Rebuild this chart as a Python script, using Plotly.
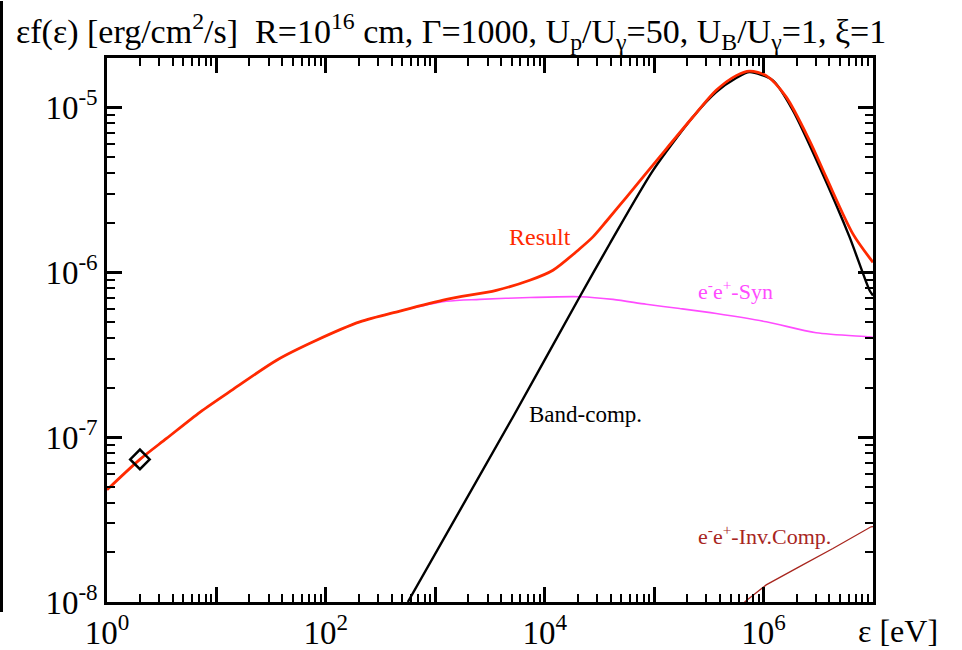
import plotly.graph_objects as go

# ---- data ----
res_e = [1.0, 2.0, 3.5, 7.1, 14.2, 35.5, 82, 204, 474, 1265, 3610, 7300, 11900, 20900, 27600,
         36600, 55700, 112000, 226000, 369000, 562000, 745000, 1057000, 1607000, 2630000,
         3730000, 6550000, 1.0e7]
res_f = [4.79e-8, 7.33e-8, 9.82e-8, 1.42e-7, 1.95e-7, 2.93e-7, 3.87e-7, 5.0e-7, 5.82e-7, 6.85e-7,
         7.78e-7, 8.95e-7, 1.03e-6, 1.39e-6, 1.64e-6, 2.04e-6, 2.85e-6, 5.0e-6, 8.75e-6, 1.27e-5,
         1.56e-5, 1.66e-5, 1.56e-5, 1.16e-5, 6.3e-6, 3.78e-6, 1.71e-6, 1.15e-6]

syn_e = [1.0, 2.0, 3.5, 7.1, 14.2, 35.5, 82, 204, 474, 1265, 2550, 7300, 20900, 42100, 84700,
         171000, 369000, 1057000, 3020000, 9290000, 1.0e7]
syn_f = [4.79e-8, 7.33e-8, 9.82e-8, 1.42e-7, 1.95e-7, 2.93e-7, 3.87e-7, 5.0e-7, 5.82e-7, 6.67e-7,
         6.85e-7, 7.03e-7, 7.11e-7, 6.85e-7, 6.40e-7, 6.03e-7, 5.62e-7, 5.01e-7, 4.3e-7, 4.06e-7,
         4.03e-7]

band_e = [561, 5140, 20900, 39300, 97700, 226000, 369000, 562000, 745000, 1216000, 1853000,
          3240000, 6100000, 9290000, 1.0e7]
band_f = [1.0e-8, 1.33e-7, 7.11e-7, 1.49e-6, 4.15e-6, 8.75e-6, 1.24e-5, 1.51e-5, 1.64e-5, 1.46e-5,
          9.6e-6, 4.37e-6, 1.64e-6, 7.78e-7, 7.24e-7]

ic_e = [670000, 1057000, 2130000, 4300000, 9600000, 1.0e7]
ic_f = [1.0e-8, 1.27e-8, 1.64e-8, 2.11e-8, 2.86e-8, 2.87e-8]

marker_e = [2.0]
marker_f = [7.33e-8]

x_major = [1, 10, 100, 1e3, 1e4, 1e5, 1e6, 1e7]
x_labels = ["10<sup>0</sup>", "", "10<sup>2</sup>", "", "10<sup>4</sup>", "", "10<sup>6</sup>", ""]
y_major = [1e-8, 1e-7, 1e-6, 1e-5]
y_labels = ["10<sup>-8</sup>", "10<sup>-7</sup>", "10<sup>-6</sup>", "10<sup>-5</sup>"]
digits = [2, 3, 4, 5, 6, 7, 8, 9]
x_minor = [d * 10 ** k for k in range(0, 7) for d in digits]
y_minor = [d * 10.0 ** k for k in range(-8, -4) for d in digits]

RED = "#ff2a00"
PINK = "#ff4cff"
DARKRED = "#a8261e"
FONT = "Liberation Serif"

# vertical compensation for the capture
S = 0.98
W = 962
H = round(650 / S)

# target plot area in screen pixels
L, R, T, B = 107, 873, 57, 602
Td, Bd = T / S, B / S
PW, PH = R - L, Bd - Td


def px(x):
    return (x - L) / PW


def py(y):
    return (Bd - y / S) / PH


fig = go.Figure()
fig.add_trace(go.Scatter(x=syn_e, y=syn_f, mode="lines",
                         line=dict(color=PINK, width=1.6, shape="spline", smoothing=0.8),
                         showlegend=False))
fig.add_trace(go.Scatter(x=ic_e, y=ic_f, mode="lines", line=dict(color=DARKRED, width=1.3),
                         showlegend=False))
fig.add_trace(go.Scatter(x=band_e, y=band_f, mode="lines",
                         line=dict(color="black", width=2.4, shape="spline", smoothing=0.7),
                         showlegend=False))
fig.add_trace(go.Scatter(x=res_e, y=res_f, mode="lines",
                         line=dict(color=RED, width=2.8, shape="spline", smoothing=0.8),
                         showlegend=False))
fig.add_trace(go.Scatter(x=marker_e, y=marker_f, mode="markers",
                         marker=dict(symbol="diamond-open", size=15, color="black",
                                     line=dict(width=2.5, color="black")),
                         showlegend=False))

axis_common = dict(
    type="log", showline=True, linewidth=2.5, linecolor="black", mirror="ticks",
    ticks="inside", ticklen=15, tickwidth=2.5, tickcolor="black",
    showgrid=False, zeroline=False, tickmode="array",
    tickfont=dict(family=FONT, size=33, color="black"),
)
fig.update_xaxes(**axis_common, range=[0, 7], tickvals=x_major, ticktext=x_labels,
                 minor=dict(tickmode="array", tickvals=x_minor, ticks="inside", ticklen=8,
                            tickwidth=2, tickcolor="black", showgrid=False))
fig.update_yaxes(**axis_common, range=[-8, -4.70], tickvals=y_major, ticktext=y_labels,
                 minor=dict(tickmode="array", tickvals=y_minor, ticks="inside", ticklen=8,
                            tickwidth=2, tickcolor="black", showgrid=False))

annotations = [
    dict(text="εf(ε) [erg/cm<sup>2</sup>/s]  R=10<sup>16</sup> cm, Γ=1000, U<sub>p</sub>/U<sub>γ</sub>=50, "
              "U<sub>B</sub>/U<sub>γ</sub>=1, ξ=1",
         x=px(14), y=py(30), xanchor="left", yanchor="middle",
         font=dict(family=FONT, size=34, color="black")),
    dict(text="ε [eV]", x=px(856), y=py(631), xanchor="left", yanchor="middle",
         font=dict(family=FONT, size=32, color="black")),
    dict(text="Result", x=px(540), y=py(236), xanchor="center", yanchor="middle",
         font=dict(family=FONT, size=24, color=RED)),
    dict(text="e<sup>-</sup>e<sup>+</sup>-Syn", x=px(735), y=py(289), xanchor="center",
         yanchor="middle", font=dict(family=FONT, size=22, color=PINK)),
    dict(text="Band-comp.", x=px(585), y=py(414), xanchor="center", yanchor="middle",
         font=dict(family=FONT, size=23, color="black")),
    dict(text="e<sup>-</sup>e<sup>+</sup>-Inv.Comp.", x=px(764), y=py(535), xanchor="center",
         yanchor="middle", font=dict(family=FONT, size=22, color=DARKRED)),
]
for a in annotations:
    a.update(xref="paper", yref="paper", showarrow=False)

fig.update_layout(
    width=W, height=H, autosize=False,
    margin=dict(l=L, r=W - R, t=Td, b=H - Bd),
    paper_bgcolor="white", plot_bgcolor="white",
    annotations=annotations,
    shapes=[dict(type="rect", xref="paper", yref="paper", x0=px(0), x1=px(3), y0=py(612),
                 y1=py(0), fillcolor="black", line=dict(width=0), layer="above")],
)

fig.write_html(
    "out.html",
    config={"displayModeBar": False},
    post_script=("document.documentElement.style.margin='0px';"
                 "document.documentElement.style.overflow='hidden';"
                 "document.body.style.margin='0px';"
                 "document.body.style.overflow='hidden';"),
)
